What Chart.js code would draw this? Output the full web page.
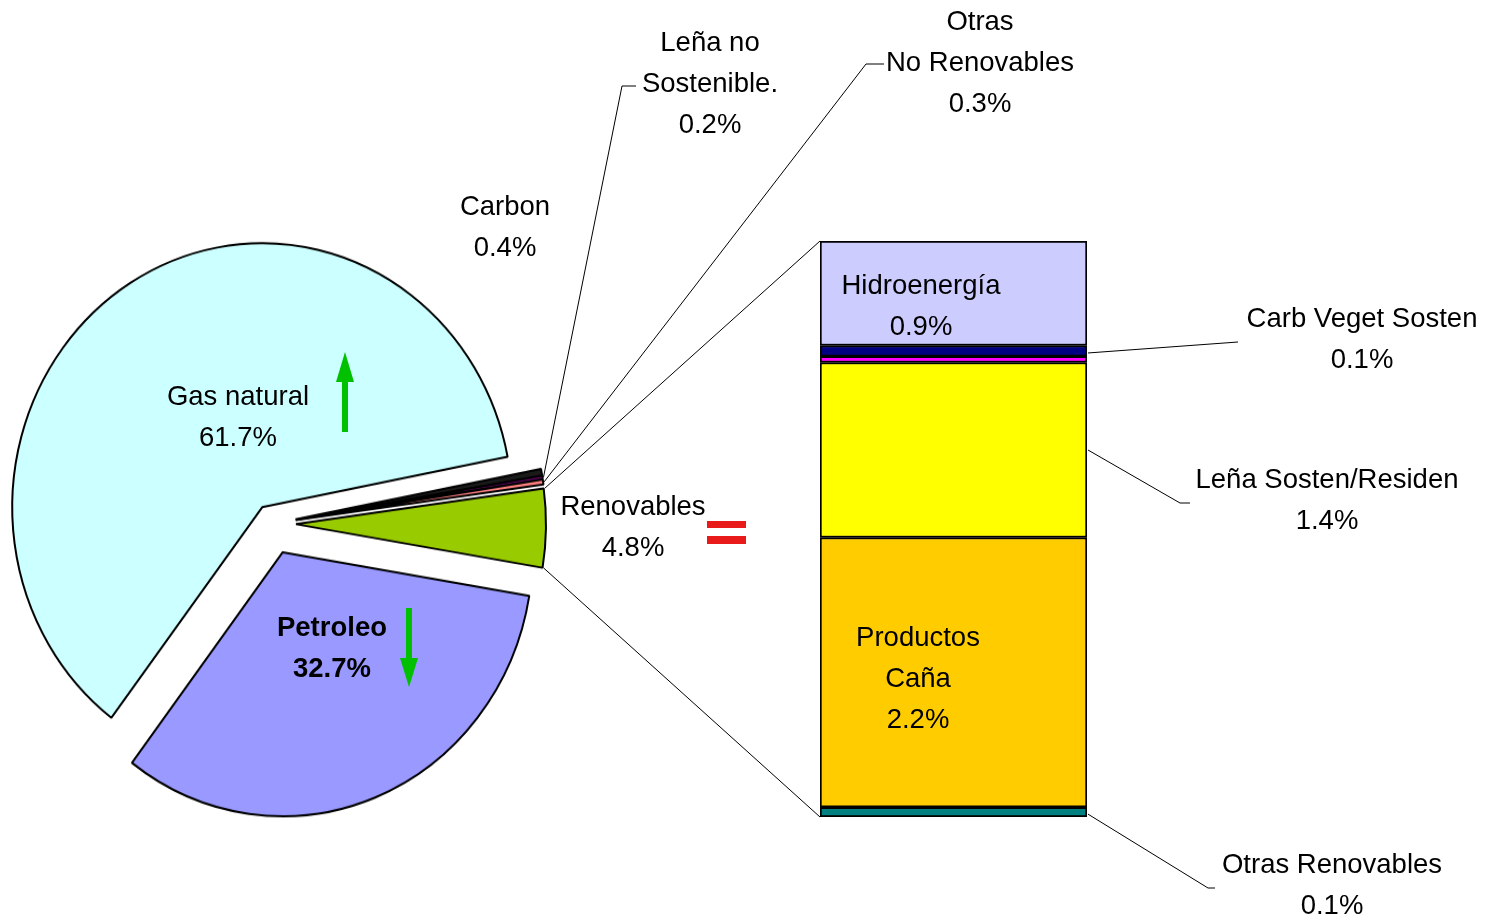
<!DOCTYPE html>
<html>
<head>
<meta charset="utf-8">
<script src="https://cdn.jsdelivr.net/npm/chart.js@4/dist/chart.umd.min.js"></script>
<style>
  html, body { margin: 0; padding: 0; background: #fff; }
  #wrap { position: relative; width: 1486px; height: 917px; overflow: hidden; }
  #pie { position: absolute; left: 0; top: 0; transform-origin: 0 0; }
  #bar { position: absolute; left: 0; top: 0; }
</style>
</head>
<body>
<div id="wrap">
  <canvas id="pie" width="1486" height="868"></canvas>
  <canvas id="bar" width="1486" height="917"></canvas>
</div>
<script>
// pie: fuentes de energia
const pieLabels = ['Petroleo', 'Gas natural', 'Carbon', 'Leña no Sostenible.', 'Otras No Renovables', 'Renovables'];
const pieValues = [32.7, 61.7, 0.4, 0.2, 0.3, 4.8];
const pieColors = ['#9999FF', '#CCFFFF', '#1A1A1A', '#800080', '#FF8080', '#99CC00'];

// barra: desglose de renovables (de abajo hacia arriba)
const barLabels = ['Otras Renovables', 'Productos Caña', 'Leña Sosten/Residen', '', 'Carb Veget Sosten', 'Hidroenergía'];
const barValues = [0.08, 2.22, 1.44, 0.05, 0.09, 0.86];
const barColors = ['#008080', '#FFCC00', '#FFFF00', '#FF00FF', '#000080', '#CCCCFF'];

const FONT = '"Liberation Sans", Arial, sans-serif';
const STRETCH = 1.056; // the original picture is a bit taller than wide
const LINE = 41;
const EXPLODE = [29, 18.5, 24, 24, 24, 24]; // px each slice is pulled out

const pieCanvas = document.getElementById('pie');
pieCanvas.style.transform = 'scaleY(' + STRETCH + ')';

// Chart.js shrinks 'offset' a lot, so pull the slices out by hand
const explode = {
  id: 'explode',
  afterDatasetUpdate(chart, args) {
    chart.getDatasetMeta(args.index).data.forEach((arc, i) => {
      const mid = (arc.startAngle + arc.endAngle) / 2;
      arc.x += Math.cos(mid) * EXPLODE[i];
      arc.y += Math.sin(mid) * EXPLODE[i];
    });
  }
};

const pieChart = new Chart(pieCanvas, {
  type: 'pie',
  data: {
    labels: pieLabels,
    datasets: [{
      data: pieValues,
      backgroundColor: pieColors,
      borderColor: '#000',
      borderWidth: 2
    }]
  },
  options: {
    responsive: false,
    animation: false,
    rotation: 99.5,
    radius: 250,
    layout: { padding: { left: 0, right: 942, top: 124, bottom: 0 } },
    plugins: { legend: { display: false }, tooltip: { enabled: false } },
    events: []
  },
  plugins: [explode]
});

function pctText(v) { return v.toFixed(1) + '%'; }

function arcPoint(i, which) {
  const arc = pieChart.getDatasetMeta(0).data[i];
  const mid = (arc.startAngle + arc.endAngle) / 2;
  const a = which === 'start' ? arc.startAngle : which === 'end' ? arc.endAngle : mid;
  const r = arc.outerRadius + 1;
  return { x: arc.x + Math.cos(a) * r, y: (arc.y + Math.sin(a) * r) * STRETCH };
}

function textBlock(ctx, lines, x, y, bold) {
  ctx.font = (bold ? 'bold ' : '') + '27.5px ' + FONT;
  ctx.fillStyle = '#000';
  ctx.textAlign = 'center';
  ctx.textBaseline = 'middle';
  lines.forEach((t, k) => ctx.fillText(t, x, y + k * LINE));
}

function line(ctx, pts) {
  ctx.beginPath();
  ctx.moveTo(pts[0].x, pts[0].y);
  for (let k = 1; k < pts.length; k++) ctx.lineTo(pts[k].x, pts[k].y);
  ctx.stroke();
}

function arrow(ctx, x, y0, y1, headLen) {
  const dir = y1 > y0 ? 1 : -1;
  ctx.fillStyle = '#00C000';
  ctx.fillRect(x - 3, Math.min(y0, y1 - dir * headLen), 6, Math.abs(y1 - dir * headLen - y0));
  ctx.beginPath();
  ctx.moveTo(x, y1);
  ctx.lineTo(x - 9, y1 - dir * headLen);
  ctx.lineTo(x + 9, y1 - dir * headLen);
  ctx.closePath();
  ctx.fill();
}

const annotations = {
  id: 'annotations',
  afterDraw(chart) {
    const ctx = chart.ctx;
    const metas = barLabels.map((_, i) => chart.getDatasetMeta(i).data[0]);
    const top = metas[metas.length - 1];
    const bottom = metas[0];
    const left = top.x - top.width / 2;
    const right = top.x + top.width / 2;
    const segMid = i => (metas[i].y + metas[i].base) / 2;

    ctx.save();
    ctx.strokeStyle = '#000';
    ctx.lineWidth = 1;

    // conectores pie -> barra
    const ren = pieLabels.length - 1;
    line(ctx, [arcPoint(ren, 'start'), { x: left, y: top.y }]);
    line(ctx, [arcPoint(ren, 'end'), { x: left, y: bottom.base }]);

    // guias de etiquetas del pie
    line(ctx, [{ x: 636, y: 86 }, { x: 622, y: 86 }, arcPoint(3, 'mid')]);
    line(ctx, [{ x: 884, y: 64 }, { x: 866, y: 64 }, arcPoint(4, 'mid')]);

    // guias de etiquetas de la barra
    line(ctx, [{ x: right + 1, y: segMid(4) + 2 }, { x: 1238, y: 342 }]);
    line(ctx, [{ x: right + 1, y: segMid(2) }, { x: 1180, y: 503 }, { x: 1190, y: 503 }]);
    line(ctx, [{ x: right + 1, y: segMid(0) + 2 }, { x: 1208, y: 888 }, { x: 1215, y: 888 }]);

    // textos del pie
    textBlock(ctx, [pieLabels[1], pctText(pieValues[1])], 238, 397);
    textBlock(ctx, [pieLabels[0], pctText(pieValues[0])], 332, 628, true);
    textBlock(ctx, [pieLabels[2], pctText(pieValues[2])], 505, 207);
    textBlock(ctx, ['Leña no', 'Sostenible.', pctText(pieValues[3])], 710, 43);
    textBlock(ctx, ['Otras', 'No Renovables', pctText(pieValues[4])], 980, 22);
    textBlock(ctx, [pieLabels[5], pctText(pieValues[5])], 633, 507);

    // textos de la barra
    textBlock(ctx, [barLabels[5], pctText(barValues[5])], 921, 286);
    textBlock(ctx, [barLabels[4], pctText(barValues[4])], 1362, 319);
    textBlock(ctx, [barLabels[2], pctText(barValues[2])], 1327, 480);
    textBlock(ctx, ['Productos', 'Caña', pctText(barValues[1])], 918, 638);
    textBlock(ctx, [barLabels[0], pctText(barValues[0])], 1332, 865);

    // flechas y signo igual
    arrow(ctx, 345, 432, 352, 30);
    arrow(ctx, 409, 608, 687, 29);
    ctx.fillStyle = '#E81A1A';
    ctx.fillRect(707, 521, 39, 7);
    ctx.fillRect(707, 536, 39, 8);
    ctx.restore();
  }
};

new Chart(document.getElementById('bar'), {
  type: 'bar',
  data: {
    labels: ['Renovables'],
    datasets: barValues.map((v, i) => ({
      label: barLabels[i],
      data: [v],
      backgroundColor: barColors[i],
      borderColor: '#000',
      borderWidth: 2,
      borderSkipped: false,
      barPercentage: 1,
      categoryPercentage: 1
    }))
  },
  options: {
    responsive: false,
    animation: false,
    layout: { padding: { left: 820, right: 399, top: 241, bottom: 100 } },
    scales: {
      x: { stacked: true, display: false },
      y: { stacked: true, display: false, min: 0, max: barValues.reduce((a, b) => a + b, 0) }
    },
    plugins: { legend: { display: false }, tooltip: { enabled: false } },
    events: []
  },
  plugins: [annotations]
});
</script>
</body>
</html>
